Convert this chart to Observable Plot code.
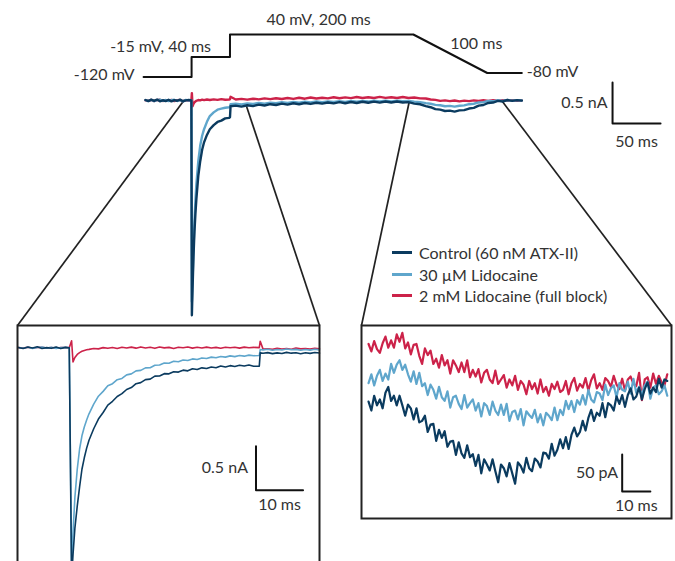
<!DOCTYPE html>
<html>
<head>
<meta charset="utf-8">
<script src="https://cdn.jsdelivr.net/npm/d3@7"></script>
<script src="https://cdn.jsdelivr.net/npm/@observablehq/plot@0.6"></script>
<style>
  html, body { margin: 0; padding: 0; overflow: hidden; background: #fff; }
  #fig { position: relative; width: 675px; height: 561px; overflow: hidden; font-family: Lato, "Open Sans", sans-serif; }
  #fig > .layer { position: absolute; }
  #fig svg { background: transparent !important; max-width: none !important; overflow: visible; }
  .legend { position: absolute; left: 392px; top: 242px; color: #333; font-size: 16px; }
  .legend .row { display: flex; align-items: center; height: 21.5px; }
  .legend .sw { width: 20px; height: 3px; margin-right: 7px; }
</style>
</head>
<body>
<div id="fig"></div>
<script>
// ---------------- DATA ----------------
const seriesNames = ["Control (60 nM ATX-II)", "30 µM Lidocaine", "2 mM Lidocaine (full block)"];
const seriesColors = ["#0b3b5f", "#5fa6cc", "#cc2249"];

// Voltage protocol (schematic, as drawn)
const protoTime = [-2, 48, 48, 88, 88, 279, 356, 392];
const protoMv   = [-120, -120, -15, -15, 40, 40, -80, -80];
const protoLabels = ["-120 mV", "-15 mV, 40 ms", "40 mV, 200 ms", "100 ms", "-80 mV"];
// schematic drawing height of each command level (the sketch is not to scale)
const protoLevels = [-120, -80, -15, 40];
const protoLevelHeight = [76.5, 72.5, 56.5, 34];

// Main traces (time in ms, current in nA)
const mainTime = [0,3,6,9,12,15,18,21,24,27,30,33,36,39,42,45,47.8,
  48.3,49,50,51,52,53,55,57,59,61,64,67,71,75,79,83,87,88,
  88.6,
  94,100,106,112,118,124,130,136,142,148,154,160,166,172,178,184,190,196,202,208,214,220,226,232,238,244,250,256,262,268,274,280,286,
  292,297,302,307,312,317,322,327,332,337,342,347,352,357,362,367,372,377,382,387,392];
const mainControl = [0.006,-0.008,0.01,-0.004,0.012,-0.01,0.003,-0.007,0.009,-0.011,0.005,-0.003,0.011,-0.009,0.002,0.008,0,
  -2.62,-2.3,-1.9,-1.6,-1.38,-1.2,-0.92,-0.74,-0.6,-0.51,-0.42,-0.35,-0.3,-0.262,-0.245,-0.218,-0.212,-0.205,
  -0.07,
  -0.062,-0.075,-0.058,-0.068,-0.05,-0.061,-0.045,-0.055,-0.038,-0.05,-0.034,-0.046,-0.03,-0.042,-0.027,-0.038,-0.024,-0.035,-0.02,-0.033,-0.018,-0.03,-0.015,-0.028,-0.014,-0.026,-0.012,-0.025,-0.012,-0.024,-0.02,-0.038,-0.046,
  -0.068,-0.082,-0.105,-0.112,-0.128,-0.124,-0.135,-0.12,-0.118,-0.098,-0.09,-0.062,-0.055,-0.03,-0.025,-0.005,-0.012,0.006,-0.004,0.005,-0.002];
const mainLido30 = [0.004,-0.006,0.008,-0.009,0.005,0.01,-0.004,0.006,-0.008,0.003,0.009,-0.006,0.004,-0.01,0.007,-0.002,0,
  -2.45,-2.2,-1.8,-1.48,-1.22,-1.02,-0.74,-0.55,-0.43,-0.35,-0.26,-0.19,-0.145,-0.112,-0.1,-0.088,-0.082,-0.08,
  -0.045,
  -0.04,-0.048,-0.035,-0.042,-0.03,-0.038,-0.026,-0.034,-0.022,-0.03,-0.018,-0.027,-0.015,-0.024,-0.012,-0.021,-0.01,-0.019,-0.007,-0.017,-0.006,-0.015,-0.004,-0.013,-0.003,-0.012,-0.002,-0.011,-0.003,-0.01,-0.006,-0.014,-0.02,
  -0.032,-0.04,-0.053,-0.058,-0.07,-0.066,-0.074,-0.064,-0.06,-0.045,-0.04,-0.024,-0.02,-0.006,-0.01,0.004,-0.004,0.006,-0.003,0.004,0];
const mainLido2 = [0.003,-0.005,0.007,-0.008,0.004,0.009,-0.006,0.005,-0.004,0.008,-0.007,0.003,0.006,-0.009,0.004,-0.003,0,
  0.09,-0.07,-0.04,-0.022,-0.012,-0.004,0.006,0.002,0.01,0.004,0.012,0.006,0.014,0.007,0.016,0.009,0.012,0.015,
  0.045,
  0.012,0.02,0.01,0.022,0.014,0.026,0.016,0.028,0.018,0.03,0.02,0.033,0.022,0.036,0.025,0.034,0.026,0.04,0.028,0.038,0.029,0.042,0.03,0.04,0.031,0.044,0.032,0.04,0.03,0.042,0.03,0.036,0.026,
  0.024,0.012,0.008,-0.004,0.002,-0.008,0,-0.01,-0.002,-0.008,0.002,-0.006,0.003,-0.004,0.004,-0.003,0.005,-0.002,0.004,-0.003,0.002];

// Inset 1: activation/decay (time in ms, current in nA)
const inset1Time = [37,38,39,40,41,42,43,44,45,46,47,
  47.8,48.3,48.6,49,49.5,50,50.5,51,51.5,
  52,53,54,55,56,57,58,59,60,61,62,63,64,65,66,67,68,69,70,71,72,73,74,75,76,77,78,79,80,81,82,83,84,85,86,87,
  88.2,88.4,
  89,90,91,92,93,94,95,96,97,98,99,100,101];
const inset1Control = [0.004,-0.007,0.009,-0.003,0.011,-0.008,0.002,-0.006,0.01,-0.009,0.005,
  0,-2.62,-2.35,-2.05,-1.8,-1.58,-1.38,-1.25,-1.14,
  -1.05,-0.92,-0.81,-0.735,-0.652,-0.608,-0.553,-0.521,-0.474,-0.452,-0.408,-0.396,-0.362,-0.356,-0.322,-0.321,-0.294,-0.296,-0.272,-0.276,-0.254,-0.262,-0.238,-0.247,-0.228,-0.236,-0.218,-0.226,-0.207,-0.218,-0.203,-0.212,-0.198,-0.207,-0.196,-0.21,
  -0.208,-0.058,
  -0.062,-0.055,-0.066,-0.058,-0.064,-0.052,-0.061,-0.056,-0.067,-0.057,-0.063,-0.054,-0.06];
const inset1Lido30 = [0.003,-0.005,0.007,-0.008,0.004,0.009,-0.004,0.006,-0.007,0.002,0.005,
  0,-2.5,-2.1,-1.7,-1.38,-1.15,-1.0,-0.9,-0.82,
  -0.75,-0.64,-0.55,-0.495,-0.432,-0.408,-0.362,-0.348,-0.308,-0.296,-0.262,-0.257,-0.228,-0.226,-0.198,-0.196,-0.173,-0.176,-0.153,-0.158,-0.139,-0.144,-0.126,-0.133,-0.115,-0.122,-0.106,-0.113,-0.099,-0.106,-0.092,-0.1,-0.088,-0.095,-0.083,-0.09,
  -0.088,-0.02,
  -0.024,-0.016,-0.027,-0.019,-0.025,-0.014,-0.023,-0.018,-0.028,-0.02,-0.026,-0.017,-0.024];
const inset1Lido2 = [0.002,-0.004,0.006,-0.005,0.003,0.007,-0.003,0.004,-0.006,0.003,0.004,
  0,0.08,-0.16,-0.11,-0.075,-0.055,-0.04,-0.03,-0.022,
  -0.018,-0.008,-0.012,0.002,-0.006,0.004,-0.008,0.006,-0.003,0.008,-0.004,0.01,-0.002,0.006,-0.006,0.009,-0.001,0.005,-0.007,0.007,0,0.009,-0.004,0.006,-0.003,0.008,-0.002,0.005,-0.005,0.007,0,0.006,-0.004,0.008,0.001,0.005,
  0.002,0.075,
  -0.015,-0.01,-0.018,-0.006,-0.014,-0.008,-0.016,-0.004,-0.012,-0.009,-0.015,-0.007,-0.011];

// Inset 2: ramp current (sampled every 1 ms from 277.5 ms, current in pA)
const inset2Start = 277.5, inset2Dt = 1;
const inset2Control = [-42,-54,-34,-47,-39,-51,-30,-22,-41,-34,
  -47,-34,-47,-61,-46,-51,-66,-51,-70,-68,
  -61,-83,-73,-72,-95,-80,-91,-82,-103,-96,
  -95,-114,-97,-112,-118,-101,-117,-113,-129,-114,
  -139,-120,-127,-135,-120,-136,-151,-127,-132,-143,
  -125,-139,-153,-124,-129,-138,-118,-132,-136,-119,
  -123,-131,-111,-112,-119,-99,-115,-107,-93,-105,
  -90,-106,-87,-77,-89,-83,-68,-81,-64,-53,
  -68,-57,-61,-44,-63,-44,-47,-54,-35,-45,
  -33,-49,-33,-24,-39,-35,-23,-39,-25,-16,
  -31,-23,-29,-11,-23,-12,-14];
const inset2Lido30 = [-17,-5,-20,-7,1,-14,-4,-12,9,-3,
  8,14,1,8,-5,-15,-1,-18,-3,-21,
  -17,-33,-19,-26,-38,-22,-36,-41,-28,-50,
  -36,-34,-45,-52,-33,-50,-44,-39,-54,-44,
  -62,-44,-48,-60,-42,-54,-60,-46,-60,-45,
  -68,-56,-54,-66,-52,-74,-55,-60,-64,-53,
  -70,-59,-74,-57,-61,-67,-50,-67,-53,-60,
  -41,-52,-41,-56,-40,-46,-33,-46,-26,-39,
  -43,-29,-31,-40,-19,-33,-24,-20,-36,-17,
  -26,-28,-15,-31,-11,-30,-22,-33,-20,-15,
  -38,-23,-20,-32,-28,-20,-34];
const inset2Lido2 = [36,26,40,29,24,37,46,31,41,31,
  49,39,51,30,38,22,35,36,20,9,
  30,21,27,9,16,4,21,7,14,-4,
  14,7,-2,11,-2,14,-9,1,-8,2,
  -16,-3,1,-12,-17,0,-18,-12,-6,-23,
  -12,-20,-7,-26,-14,-19,-32,-14,-25,-17,
  -31,-12,-29,-22,-34,-18,-25,-15,-29,-26,
  -14,-32,-17,-10,-27,-18,-23,-10,-27,-13,
  -5,-24,-17,-26,-10,-14,-22,-7,-19,-25,
  -11,-27,-12,-8,-18,-21,-3,-40,-12,-9,
  -23,-4,-18,-7,-16,-20,-5];

// Zoom windows on the main trace (time ms, level nA)
const zoomWindows = [
  {t0: 40, v0: 0, t1: 105.2, v1: -0.07},
  {t0: 275, v0: 0, t1: 371.6, v1: -0.01}
];

// Scale bars
const mainBar = {t: 486.5, v: -0.28, dt: 50, dv: 0.5, tLabel: "50 ms", vLabel: "0.5 nA"};
const inset1Bar = {t: 87.5, v: -1.62, dt: 10, dv: 0.5, tLabel: "10 ms", vLabel: "0.5 nA"};
const inset2Bar = {t: 367.5, v: -163.5, dt: 10, dv: 50, tLabel: "10 ms", vLabel: "50 pA"};

// ---------------- LAYOUT ----------------
const W = 675, H = 561;
const INK = "#222", TEXT = "#333", FONT = "Lato, 'Open Sans', sans-serif", FS = 16;
const mainXDomain = [-151.04, 552.08], mainYDomain = [-5.622, 1.2195];
const inset1Box = {left: 17, top: 325, right: 319, bottom: 571};
const inset2Box = {left: 361, top: 325, right: 671, bottom: 518};
const inset1X = [36.8, 101], inset1Y = [-2.5421, 0.2534];
const inset2X = [275, 385], inset2Y = [-200, 61];

const xMain = d3.scaleLinear(mainXDomain, [0, W]);
const yMain = d3.scaleLinear(mainYDomain, [H, 0]);

const rows = (time, vals) => time.map((t, i) => ({t, v: vals[i]}));
const rowsDt = (start, dt, vals) => vals.map((v, i) => ({t: start + i * dt, v}));

function barMarks(b, {dxV, dyT, stroke = "#111", sw = 2}) {
  const pts = [{t: b.t, v: b.v + b.dv}, {t: b.t, v: b.v}, {t: b.t + b.dt, v: b.v}];
  return [
    Plot.line(pts, {x: "t", y: "v", stroke, strokeWidth: sw}),
    Plot.text([{t: b.t, v: b.v + b.dv / 2, s: b.vLabel}], {x: "t", y: "v", text: "s", textAnchor: "end", dx: dxV, fill: TEXT, fontSize: FS}),
    Plot.text([{t: b.t + b.dt / 2, v: b.v, s: b.tLabel}], {x: "t", y: "v", text: "s", dy: dyT, fill: TEXT, fontSize: FS})
  ];
}

const fig = document.getElementById("fig");
function place(el, left, top) {
  el.classList.add("layer");
  el.style.left = left + "px";
  el.style.top = top + "px";
  fig.appendChild(el);
}
const baseStyle = {background: "transparent", fontFamily: FONT, fontSize: FS + "px", overflow: "visible"};

// ---- main panel (also carries zoom connectors)
const corners = [
  [inset1Box.left, inset1Box.top, inset1Box.right, inset1Box.top],
  [inset2Box.left, inset2Box.top, inset2Box.right, inset2Box.top]
];
const links = [];
zoomWindows.forEach((w, i) => {
  const c = corners[i];
  links.push({t1: w.t0, v1: w.v0, t2: xMain.invert(c[0]), v2: yMain.invert(c[1])});
  links.push({t1: w.t1, v1: w.v1, t2: xMain.invert(c[2]), v2: yMain.invert(c[3])});
});

const mainPlot = Plot.plot({
  width: W, height: H, margin: 0, style: baseStyle,
  x: {domain: mainXDomain, range: [0, W], axis: null},
  y: {domain: mainYDomain, range: [H, 0], axis: null},
  marks: [
    Plot.link(links, {x1: "t1", y1: "v1", x2: "t2", y2: "v2", stroke: INK, strokeWidth: 1.7}),
    Plot.line(rows(mainTime, mainLido2), {x: "t", y: "v", stroke: seriesColors[2], strokeWidth: 2.4}),
    Plot.line(rows(mainTime, mainLido30), {x: "t", y: "v", stroke: seriesColors[1], strokeWidth: 2.4}),
    Plot.line(rows(mainTime, mainControl), {x: "t", y: "v", stroke: seriesColors[0], strokeWidth: 2.4}),
    ...barMarks(mainBar, {dxV: -5, dyT: 18})
  ]
});
place(mainPlot, 0, 0);

// ---- voltage protocol (schematic level heights via a piecewise scale transform)
const protoHeight = d3.scaleLinear(protoLevels, protoLevelHeight);
const protoRows = rows(protoTime, protoMv);
const pLab = (i, t, v, opts) => Plot.text([{t, v, s: protoLabels[i]}], {x: "t", y: "v", text: "s", fill: TEXT, fontSize: FS, ...opts});
const protoPlot = Plot.plot({
  width: W, height: 100, margin: 0, style: baseStyle,
  x: {domain: mainXDomain, range: [0, W], axis: null},
  y: {transform: protoHeight, domain: [0, 100], range: [0, 100], axis: null},
  marks: [
    Plot.line(protoRows, {x: "t", y: "v", stroke: "#111", strokeWidth: 2}),
    pLab(0, protoTime[0], protoMv[0], {textAnchor: "end", dx: -9, dy: -2}),
    pLab(1, protoTime[3], protoMv[3], {textAnchor: "end", dx: -19, dy: -10}),
    pLab(2, (protoTime[4] + protoTime[5]) / 2, protoMv[4], {dx: -3, dy: -15}),
    pLab(3, (protoTime[5] + protoTime[6]) / 2, (protoMv[5] + protoMv[6]) / 2, {dx: 26, dy: -14}),
    pLab(4, protoTime[7], protoMv[7], {textAnchor: "start", dx: 5, dy: -1})
  ]
});
place(protoPlot, 0, 0);

// ---- inset 1
const m = 2;
const inset1 = Plot.plot({
  width: inset1Box.right - inset1Box.left + 2 * m,
  height: inset1Box.bottom - inset1Box.top + 2 * m,
  margin: m, style: baseStyle,
  x: {domain: inset1X, axis: null},
  y: {domain: inset1Y, axis: null},
  marks: [
    Plot.line(rows(inset1Time, inset1Lido2), {x: "t", y: "v", stroke: seriesColors[2], strokeWidth: 1.6}),
    Plot.line(rows(inset1Time, inset1Lido30), {x: "t", y: "v", stroke: seriesColors[1], strokeWidth: 1.6}),
    Plot.line(rows(inset1Time, inset1Control), {x: "t", y: "v", stroke: seriesColors[0], strokeWidth: 1.6}),
    ...barMarks(inset1Bar, {dxV: -8, dyT: 15}),
    Plot.frame({stroke: INK, strokeWidth: 2})
  ]
});
place(inset1, inset1Box.left - m, inset1Box.top - m);

// ---- inset 2
const inset2 = Plot.plot({
  width: inset2Box.right - inset2Box.left + 2 * m,
  height: inset2Box.bottom - inset2Box.top + 2 * m,
  margin: m, style: baseStyle,
  x: {domain: inset2X, axis: null},
  y: {domain: inset2Y, axis: null},
  marks: [
    Plot.line(rowsDt(inset2Start, inset2Dt, inset2Lido2), {x: "t", y: "v", stroke: seriesColors[2], strokeWidth: 2.2}),
    Plot.line(rowsDt(inset2Start, inset2Dt, inset2Lido30), {x: "t", y: "v", stroke: seriesColors[1], strokeWidth: 2.2}),
    Plot.line(rowsDt(inset2Start, inset2Dt, inset2Control), {x: "t", y: "v", stroke: seriesColors[0], strokeWidth: 2.2}),
    ...barMarks(inset2Bar, {dxV: -4, dyT: 14}),
    Plot.frame({stroke: INK, strokeWidth: 2})
  ]
});
place(inset2, inset2Box.left - m, inset2Box.top - m);

// ---- legend
const legend = document.createElement("div");
legend.className = "legend";
seriesNames.forEach((name, i) => {
  const row = document.createElement("div");
  row.className = "row";
  const sw = document.createElement("span");
  sw.className = "sw";
  sw.style.background = seriesColors[i];
  const lab = document.createElement("span");
  lab.textContent = name;
  row.appendChild(sw);
  row.appendChild(lab);
  legend.appendChild(row);
});
fig.appendChild(legend);
</script>
</body>
</html>
